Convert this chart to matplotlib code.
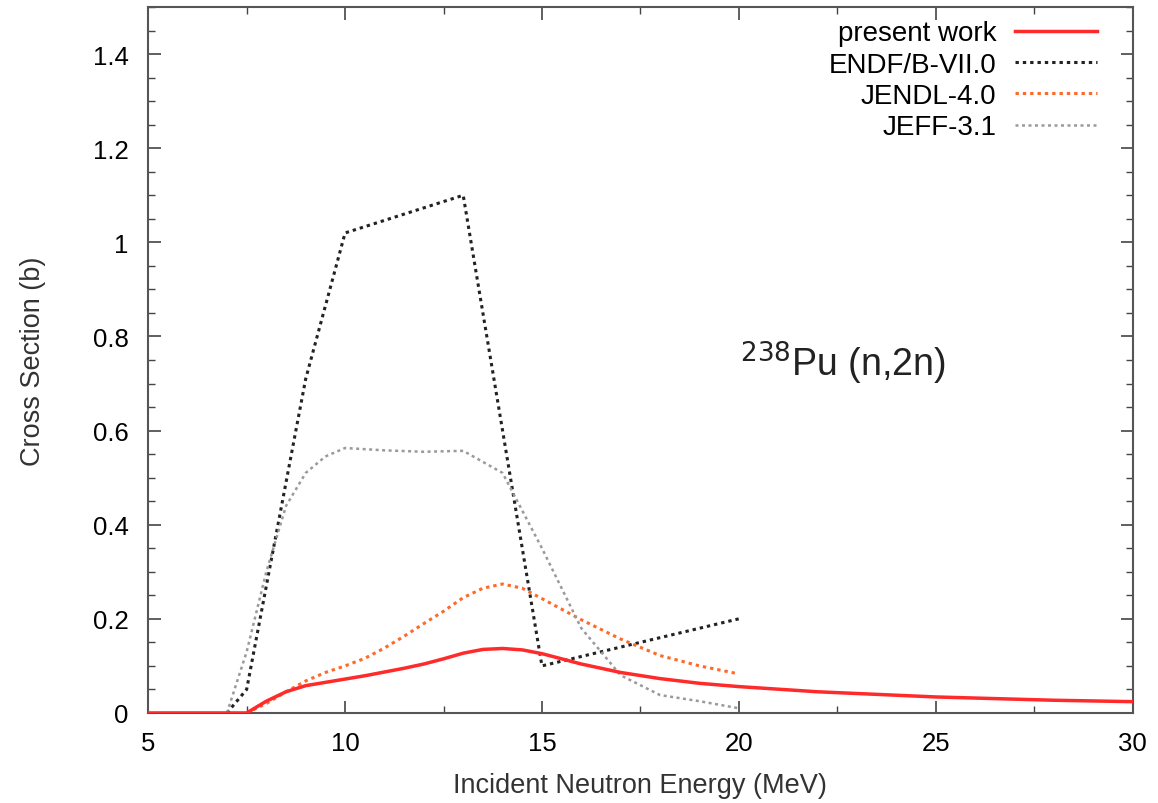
import matplotlib.pyplot as plt
from matplotlib.ticker import MultipleLocator

plt.rcParams['font.family'] = ['Liberation Sans', 'DejaVu Sans']

# present work
e_pw = [5, 7.5, 8, 8.5, 9, 9.5, 10, 10.5, 11, 11.5, 12, 12.5, 13, 13.5, 14, 14.5, 15,
        16, 17, 18, 19, 20, 22, 25, 28, 30]
xs_pw = [0, 0, 0.025, 0.045, 0.058, 0.065, 0.072, 0.079, 0.087, 0.095, 0.104, 0.115,
         0.127, 0.135, 0.137, 0.134, 0.126, 0.104, 0.086, 0.073, 0.063, 0.056, 0.045,
         0.034, 0.027, 0.024]

# ENDF/B-VII.0
e_endf = [7.0, 7.5, 9.0, 10, 13, 15, 20]
xs_endf = [0, 0.05, 0.71, 1.02, 1.10, 0.10, 0.20]

# JENDL-4.0
e_jendl = [7.5, 8, 8.5, 9, 9.5, 10, 10.5, 11, 11.5, 12, 12.5, 13, 13.5, 14, 14.5, 15,
           16, 17, 18, 19, 20]
xs_jendl = [0, 0.02, 0.045, 0.068, 0.086, 0.10, 0.116, 0.138, 0.163, 0.19, 0.216,
            0.245, 0.265, 0.274, 0.265, 0.243, 0.198, 0.157, 0.122, 0.10, 0.083]

# JEFF-3.1
e_jeff = [7.0, 7.5, 8, 8.5, 9, 9.5, 10, 11, 12, 13, 14, 14.5, 15, 16, 17, 18, 19, 20]
xs_jeff = [0, 0.13, 0.30, 0.44, 0.51, 0.545, 0.563, 0.558, 0.555, 0.557, 0.51,
           0.43, 0.35, 0.18, 0.08, 0.038, 0.025, 0.01]

fig = plt.figure(figsize=(11.58, 8.04), dpi=100)
ax = fig.add_axes([0.128, 0.112, 0.850, 0.878])

ax.plot(e_pw, xs_pw, color='#ff2a2a', lw=2.5, label='present work', zorder=5)
ax.plot(e_endf, xs_endf, color='#222222', lw=2.2, linestyle=(0, (1.1, 1.3)),
        label='ENDF/B-VII.0')
ax.plot(e_jendl, xs_jendl, color='#ff6a2a', lw=2.2, linestyle=(0, (1.1, 1.3)),
        label='JENDL-4.0')
ax.plot(e_jeff, xs_jeff, color='#9a9a9a', lw=1.8, linestyle=(0, (1.2, 1.4)),
        label='JEFF-3.1')

ax.set_xlim(5, 30)
ax.set_ylim(0, 1.5)
ax.set_xticks([5, 10, 15, 20, 25, 30])
ax.set_yticks([0, 0.2, 0.4, 0.6, 0.8, 1.0, 1.2, 1.4])
ax.set_yticklabels(['0', '0.2', '0.4', '0.6', '0.8', '1', '1.2', '1.4'])
ax.xaxis.set_minor_locator(MultipleLocator(2.5))
ax.yaxis.set_minor_locator(MultipleLocator(0.05))
ax.tick_params(which='both', direction='in', top=True, right=True, color='#444444',
               labelsize=18.5)
ax.tick_params(axis='x', pad=13)
ax.tick_params(axis='y', pad=14)
ax.tick_params(which='major', length=9, width=1.2)
ax.tick_params(which='minor', length=5, width=1.0)
for s in ax.spines.values():
    s.set_color('#555555')
    s.set_linewidth(1.5)

ax.set_xlabel('Incident Neutron Energy (MeV)', fontsize=19.5, color='#333333', labelpad=12)
ax.set_ylabel('Cross Section (b)', fontsize=19.5, color='#333333', labelpad=34)

ax.text(0.706, 0.497, r'$^{238}$Pu (n,2n)', transform=ax.transAxes, fontsize=27,
        ha='center', va='center', color='#222222')

leg = ax.legend(loc='upper right', bbox_to_anchor=(0.9635, 0.981), frameon=False,
                markerfirst=False, fontsize=20, handlelength=2.95, handletextpad=0.65,
                labelspacing=0.19, borderaxespad=0, borderpad=0)

fig.savefig('out.png', dpi=100)
